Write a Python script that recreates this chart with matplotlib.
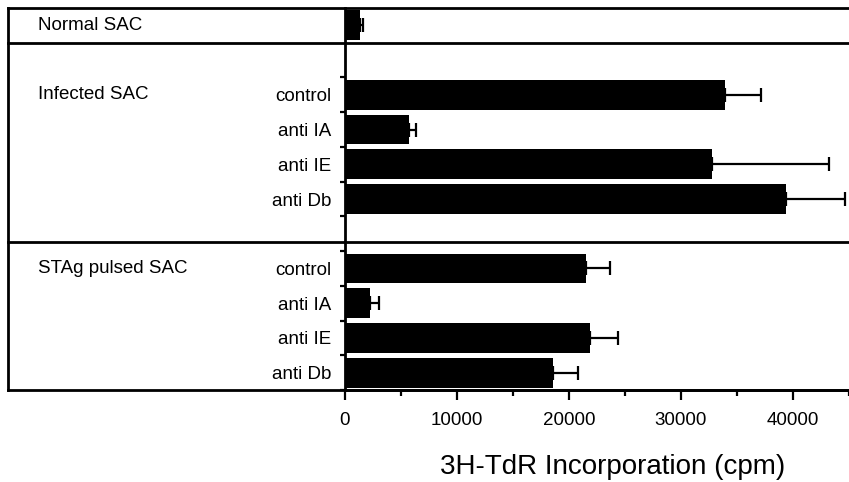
import numpy as np
import matplotlib.pyplot as plt
from matplotlib import transforms

plt.rcParams['font.family'] = ['Liberation Sans', 'DejaVu Sans']

# -------------------- data --------------------
groups = ["Normal SAC", "Infected SAC", "STAg pulsed SAC"]
normal_labels = [""]
normal_vals = [1300]
normal_err = [300]

treat_labels = ["control", "anti IA", "anti IE", "anti Db"]
infected_vals = [33900, 5700, 32800, 39400]
infected_err = [3200, 600, 10400, 5200]
stag_vals = [21500, 2200, 21900, 18600]
stag_err = [2200, 800, 2500, 2200]

xticks = [0, 10000, 20000, 30000, 40000]
xlabel = "3H-TdR Incorporation (cpm)"

# -------------------- layout (slot units, top = 0) --------------------
group_start = [0, 2, 7]      # first slot of each group
separators = [1.0, 6.75]     # horizontal rules between groups
y_bottom = 11.0

series = [(normal_labels, normal_vals, normal_err),
          (treat_labels, infected_vals, infected_err),
          (treat_labels, stag_vals, stag_err)]

W, H = 849, 482
fig = plt.figure(figsize=(W / 100, H / 100), dpi=100)
ax = fig.add_axes([345 / W, 1 - 390 / H, 504 / W, 382 / H])

centers, labels, vals, errs, bounds = [], [], [], [], []
for start, (lab, v, e) in zip(group_start, series):
    pos = start + 0.5 + np.arange(len(v))
    centers.extend(pos)
    labels.extend(lab)
    vals.extend(v)
    errs.extend(e)
    if len(v) > 1:
        bounds.extend(start + np.arange(len(v) + 1))

centers = np.array(centers)
ax.barh(centers, vals, height=0.86, color="black")
ax.errorbar(vals, centers, xerr=[np.zeros(len(errs)), errs], fmt="none",
            ecolor="black", elinewidth=1.6, capsize=4.8, capthick=1.6)

ax.set_xlim(0, 45000)
ax.set_ylim(y_bottom, 0)

# x axis
ax.set_xticks(xticks)
ax.set_xticks(np.arange(5000, 45001, 10000), minor=True)
ax.tick_params(axis="x", which="major", direction="out", length=7, width=1.6,
               labelsize=13.5, pad=9)
ax.tick_params(axis="x", which="minor", direction="out", length=4.5, width=1.6)

# y axis: small ticks at slot boundaries, labels at bar centres
ax.set_yticks(bounds)
ax.set_yticklabels([])
ax.set_yticks(centers, labels, minor=True)
ax.tick_params(axis="y", which="major", direction="out", length=3.5, width=1.6)
ax.tick_params(axis="y", which="minor", length=0, pad=10, labelsize=13.5)

for s in ["top", "right"]:
    ax.spines[s].set_visible(False)
for s in ["left", "bottom"]:
    ax.spines[s].set_linewidth(2.0)

# frame lines spanning the whole panel
tr = transforms.blended_transform_factory(fig.transFigure, ax.transData)
x0, x1 = 8 / W, 1.0
for y in [0] + separators + [y_bottom]:
    ax.plot([x0, x1], [y, y], color="black", lw=2.0, transform=tr, clip_on=False)
ax.plot([x0, x0], [0, y_bottom], color="black", lw=2.0, transform=tr, clip_on=False)

# group names
for start, name in zip(group_start, groups):
    ax.text(38 / W, start + 0.5, name, transform=tr, ha="left", va="center",
            fontsize=13.5)

fig.text(613 / W, 1 - 467 / H, xlabel, ha="center", va="center", fontsize=20)

fig.savefig("out.png", dpi=100)
